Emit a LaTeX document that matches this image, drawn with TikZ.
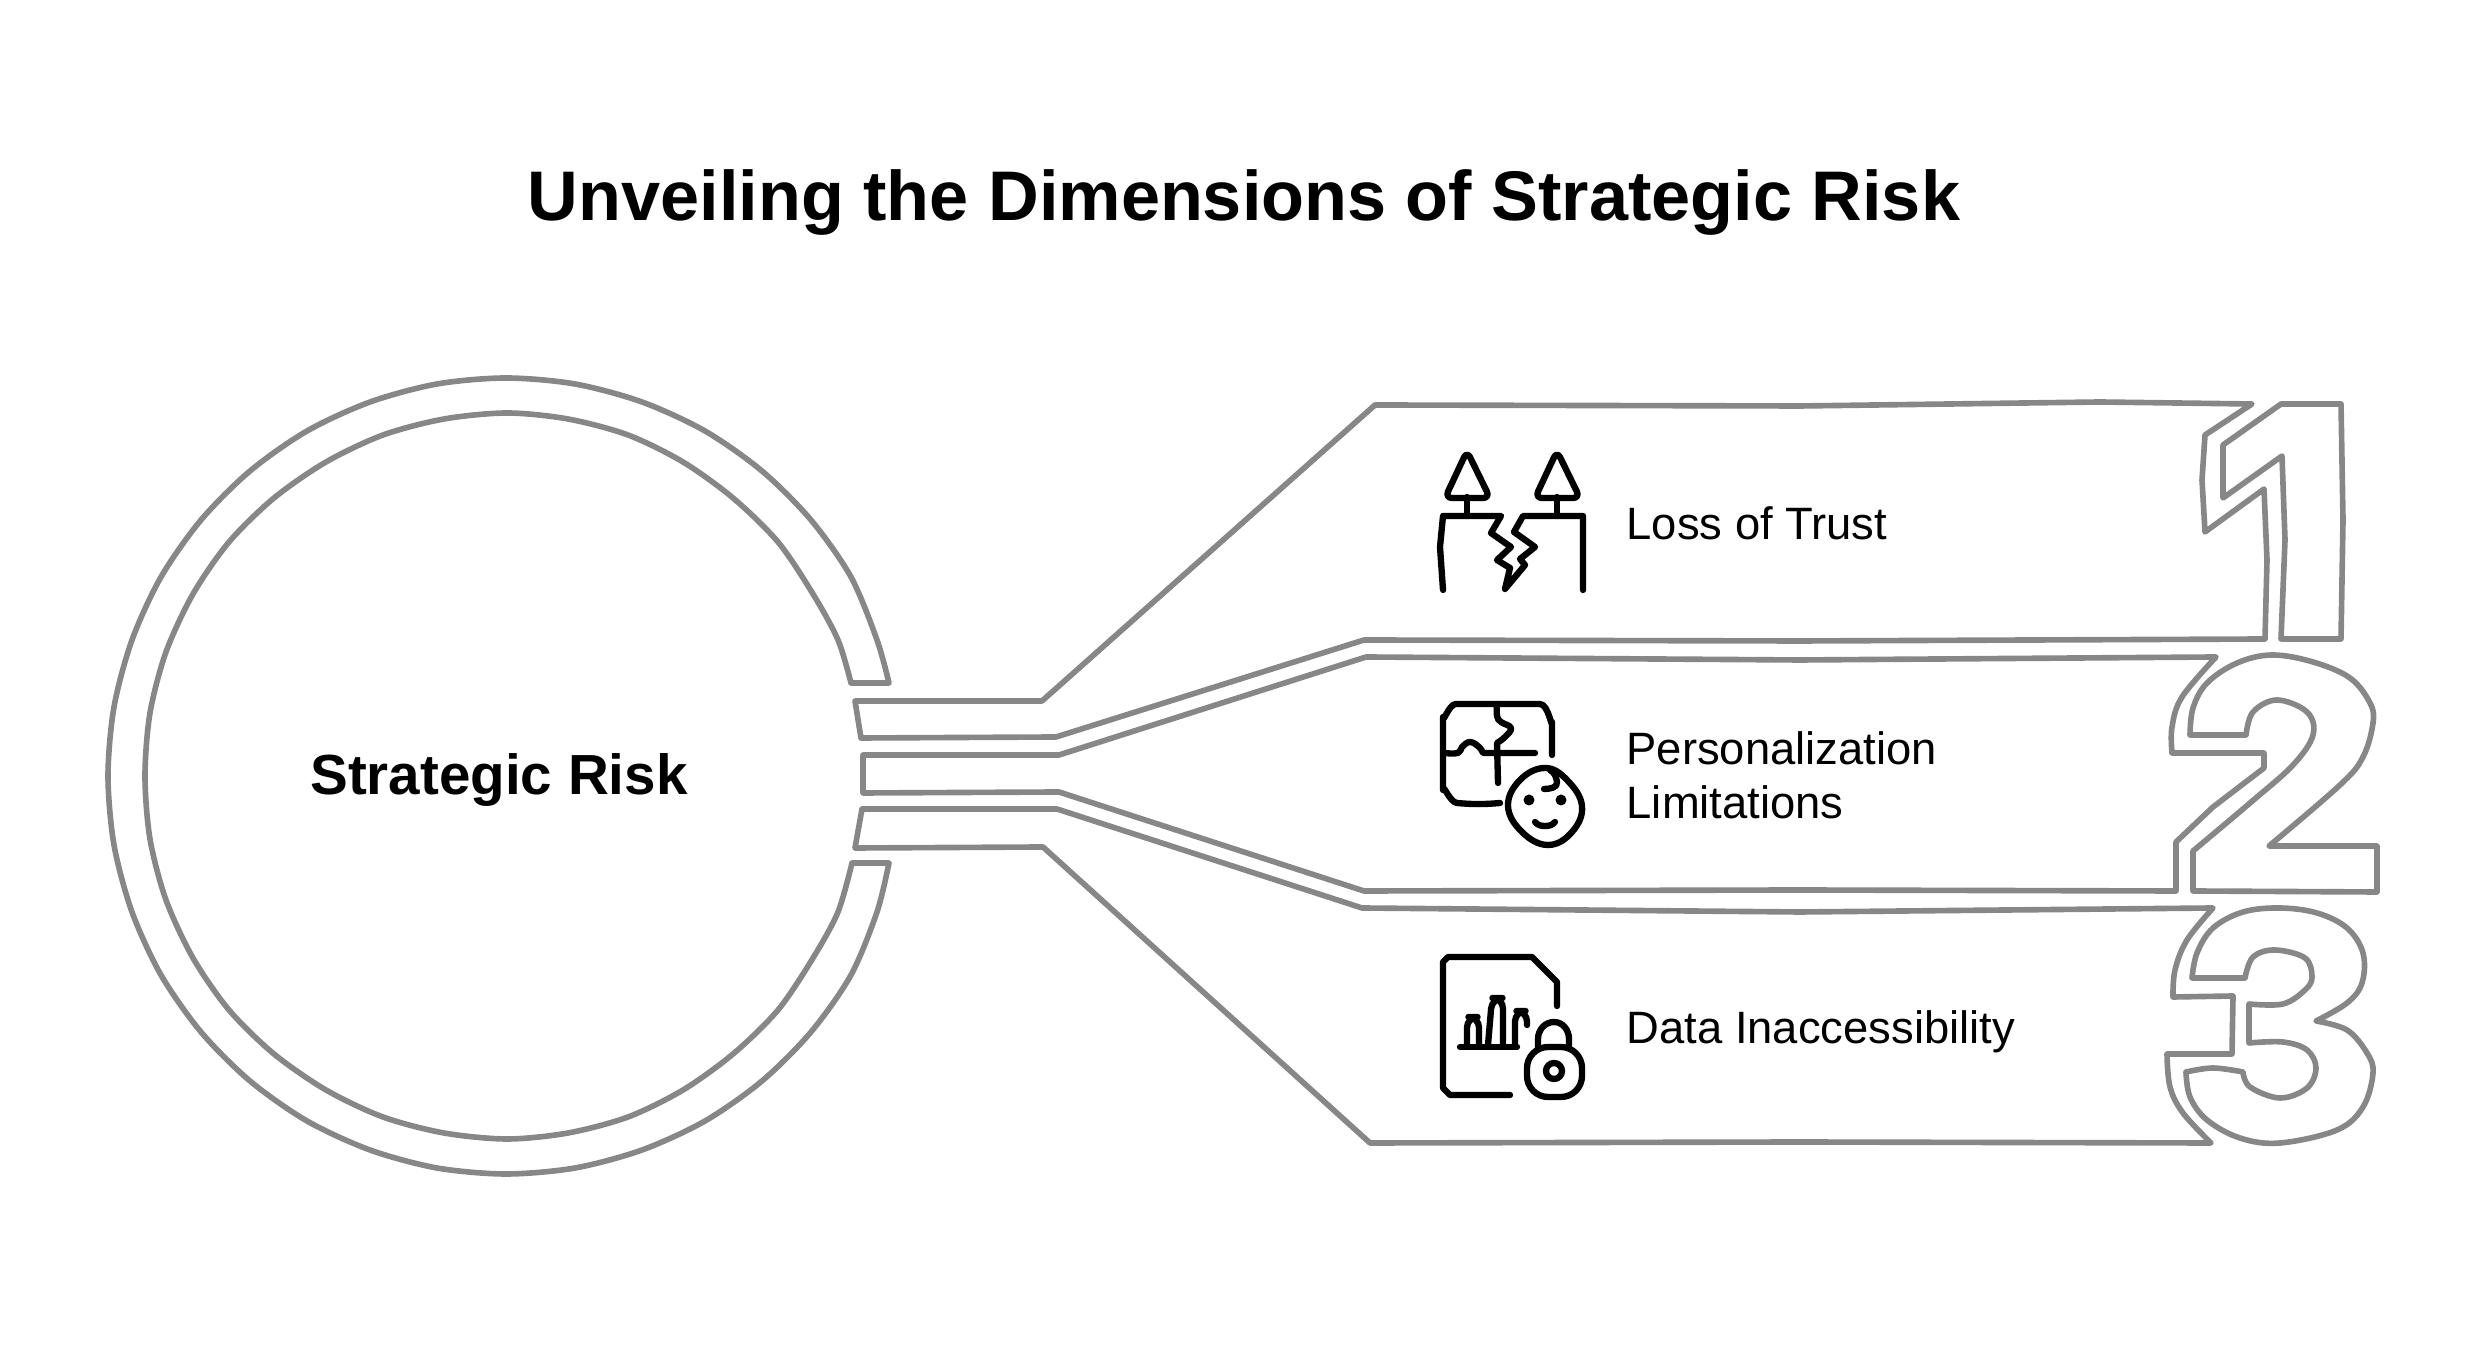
\documentclass[tikz,border=0pt]{standalone}
\usepackage{fontspec}
\setmainfont{Liberation Sans}
\usepackage{tikz}

\begin{document}
\begin{tikzpicture}[
    x=0.01cm, y=-0.01cm,
    ribbon/.style={draw=black!47, line width=1.6pt, line join=round, line cap=round},
    glyph/.style={draw=black, line width=1.8pt, line join=round, line cap=round},
    heading/.style={font=\bfseries\fontsize{19.97}{24}\selectfont, inner sep=0},
    hub/.style={font=\bfseries\fontsize{16.08}{20}\selectfont, inner sep=0},
    entry/.style={font=\fontsize{12.9}{15.4}\selectfont, anchor=west, align=left, inner sep=0}
  ]
  \useasboundingbox (0,0) rectangle (2484,1368);

  \node[heading] (title) at (1244,203) {Unveiling the Dimensions of Strategic Risk};
  \node[hub] (hubtext) at (499,780) {Strategic Risk};
  \node[entry] (trust) at (1626,523) {Loss of Trust};
  \node[entry] (person) at (1626,775) {Personalization\\Limitations};
  \node[entry] (access) at (1626,1032) {Data Inaccessibility};

  \draw[ribbon] (889,683) -- plot[smooth,tension=0.5] coordinates {(889,683) (877,640) (851,577) (811,520) (762,471) (705,431) (642,402) (575,384) (506,378) (437,384) (370,402) (307,431) (250,471) (201,520) (161,577) (132,640) (114,707) (108,776) (114,845) (132,912) (161,975) (201,1032) (250,1081) (307,1121) (370,1150) (437,1168) (506,1174) (575,1168) (642,1150) (705,1121) (762,1081) (811,1032) (851,975) (877,912) (889,863)}
    -- (852,863) -- plot[smooth,tension=0.5] coordinates {(852,863) (838,912) (813,958) (778,1010) (733,1054) (683,1090) (628,1117) (568,1133) (507,1139) (444,1133) (383,1117) (326,1090) (274,1054) (229,1010) (193,958) (166,900) (150,839) (145,776) (150,713) (166,652) (193,594) (229,542) (274,498) (326,462) (383,435) (444,419) (507,413) (568,419) (628,435) (683,462) (733,498) (778,542) (813,594) (838,640) (851,683)}
    -- cycle;

  \draw[ribbon] (855,701) -- (1042,701) -- (1375,405) -- (1800,406) -- (2100,402) -- (2252,404) -- (2205,435)
    -- (2202,480) -- (2205,532) -- (2264,489) -- (2267,560) -- (2265,639) -- (1800,641) -- (1364,640) -- (1056,737)
    -- (861,738) -- cycle;
  \draw[ribbon] (2281,404) -- (2341,404) -- (2343,520) -- (2341,639) -- (2281,639) -- (2285,540) -- (2282,456)
    -- (2223,498) -- (2223,445) -- cycle;

  \draw[ribbon] (863,755) -- (1059,755) -- (1366,657) -- (1800,660) -- (2216,657) -- plot[smooth,tension=0.6] coordinates {(2216,657) (2182,697) (2172,727) (2172,753)}
    -- (2264,753) -- (2264,768) -- (2213,807) -- (2176,842) -- (2176,891) -- (1800,890) -- (1364,891) -- (1059,792)
    -- (863,793) -- cycle;
  \draw[ribbon] (2190,735) -- plot[smooth,tension=0.6] coordinates {(2190,735) (2193,708) (2207,683) (2237,663) (2272,655) (2313,662) (2350,678) (2370,703) (2373,723) (2363,757) (2340,785) (2269,846)}
    -- (2377,846) -- (2377,892) -- (2193,891) -- (2193,851) -- plot[smooth,tension=0.6] coordinates {(2193,851) (2250,803) (2293,765) (2313,735) (2307,712) (2277,700) (2253,712) (2246,735)}
    -- cycle;

  \draw[ribbon] (862,809) -- (1057,809) -- (1362,908) -- (1800,912) -- (2213,908) -- plot[smooth,tension=0.6] coordinates {(2213,908) (2187,940) (2175,970) (2173,997)}
    -- (2233,996) -- (2232,1054) -- (2167,1054) -- plot[smooth,tension=0.6] coordinates {(2167,1054) (2170,1087) (2183,1113) (2211,1143)}
    -- (1800,1142) -- (1370,1143) -- (1043,847) -- (855,848) -- cycle;
  \draw[ribbon] (2192,978) -- plot[smooth,tension=0.6] coordinates {(2192,978) (2197,953) (2213,928) (2243,912) (2280,908) (2317,913) (2347,928) (2363,953) (2362,983) (2347,1003) (2316,1021)}
    -- plot[smooth,tension=0.6] coordinates {(2316,1021) (2347,1030) (2367,1053) (2373,1073) (2363,1107) (2337,1130) (2280,1143) (2240,1138) (2207,1120) (2190,1097) (2186,1072)}
    -- plot[smooth,tension=0.6] coordinates {(2186,1072) (2213,1068) (2243,1072)}
    -- plot[smooth,tension=0.6] coordinates {(2243,1072) (2250,1087) (2280,1098) (2307,1088) (2316,1068) (2307,1050) (2283,1042) (2249,1043)}
    -- (2249,1004) -- plot[smooth,tension=0.6] coordinates {(2249,1004) (2283,1004) (2305,990) (2312,977) (2305,958) (2275,950) (2253,957) (2245,978)}
    -- cycle;

  \draw[glyph, rounded corners=2] (1467,451) -- (1445,498) -- (1490,498) -- cycle;
  \draw[glyph] (1467,497) -- (1467,516);
  \draw[glyph, rounded corners=2] (1557,451) -- (1535,498) -- (1580,498) -- cycle;
  \draw[glyph] (1557,497) -- (1557,516);
  \draw[glyph] (1443,590) -- (1440,547) -- (1443,516) -- (1501,516) -- (1491,533) -- (1511,547) -- (1497,560)
    -- (1510,568) -- (1505,589) -- (1525,565) -- (1520,559) -- (1535,547) -- (1514,532) -- (1523,516) -- (1583,516) -- (1583,590);

  \draw[glyph] (1500,803) to[out=185,in=-5] (1457,803) to[out=175,in=90] (1443,790) -- (1443,717) to[out=-90,in=180] (1456,704)
    -- (1540,704) to[out=0,in=-90] (1552,722) -- (1552,755);
  \draw[glyph] (1497,704) -- plot[smooth,tension=0.7] coordinates {(1497,704) (1497,716) (1501,722) (1511,728) (1505,737) (1497,743)} -- (1498,783);
  \draw[glyph] (1444,753) -- plot[smooth,tension=0.7] coordinates {(1444,753) (1458,753) (1462,747) (1470,742) (1479,747) (1483,753)} -- (1535,753);
  \draw[glyph] plot[smooth cycle,tension=0.7] coordinates {(1545,768) (1567,780) (1582,806) (1572,832) (1548,845) (1522,832) (1508,806) (1520,780)};
  \fill (1529,800) circle (5.5);
  \fill (1561,800) circle (5.5);
  \draw[glyph] (1535,822) to[out=-50,in=180] (1545,826) to[out=0,in=-130] (1555,822);
  \draw[glyph] (1544,789) to[out=0,in=-80] (1557,782) to[out=100,in=-30] (1550,770);

  \draw[glyph] (1510,1095) -- (1450,1095) -- (1443,1088) -- (1443,962) -- (1448,957) -- (1532,957) -- (1557,982) -- (1557,1006);
  \draw[glyph] (1460,1047) -- (1517,1047);
  \draw[glyph, rounded corners=3] (1467,1045) -- (1467,1017) -- (1479,1017) -- (1479,1045);
  \draw[glyph, rounded corners=3] (1488,1045) -- (1492,998) -- (1503,998) -- (1503,1045);
  \draw[glyph, rounded corners=3] (1515,1045) -- (1515,1011) -- (1527,1011) -- (1527,1025);
  \draw[glyph, rounded corners=6] (1527,1047) rectangle (1582,1097);
  \draw[glyph] (1538,1047) -- (1538,1039) to[out=90,in=180] (1554,1022) to[out=0,in=90] (1569,1039) -- (1569,1047);
  \draw[glyph] (1554,1071) circle (8);
\end{tikzpicture}
\end{document}
